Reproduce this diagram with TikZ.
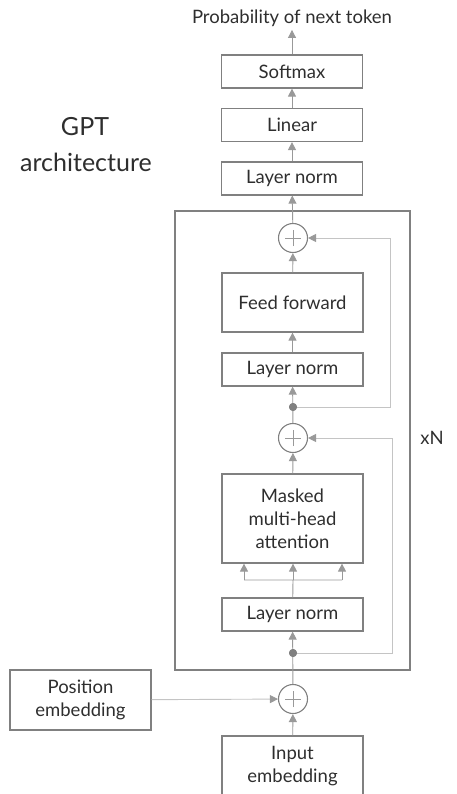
\documentclass[tikz,border=0pt]{standalone}
\usepackage{fontspec}
\setmainfont{Lato}
\usetikzlibrary{arrows.meta}
\definecolor{boxgray}{HTML}{808080}
\definecolor{linegray}{HTML}{999999}
\definecolor{skipgray}{HTML}{C4C4C4}
\definecolor{txtgray}{HTML}{2E2E2E}

\begin{document}
\begin{tikzpicture}[
        x=1pt, y=-1pt,
        font=\fontsize{18.5}{23}\selectfont, text=txtgray,
        layer/.style={draw=boxgray, line width=1.2pt, minimum width=141pt,
          minimum height=33pt, inner sep=0pt, align=center},
        sumnode/.style={circle, draw=boxgray, line width=1.1pt, minimum size=29pt,
          inner sep=0pt, path picture={
            \draw[linegray, line width=0.8pt]
              ([xshift=-8pt]path picture bounding box.center) -- ([xshift=8pt]path picture bounding box.center)
              ([yshift=-8pt]path picture bounding box.center) -- ([yshift=8pt]path picture bounding box.center);}},
        junction/.style={circle, fill=boxgray, minimum size=8pt, inner sep=0pt},
        flow/.style={draw=linegray, line width=0.9pt, -{Triangle[length=8pt,width=8pt]}},
        resid/.style={draw=skipgray, line width=0.9pt, -{Triangle[length=8pt,width=8pt,color=linegray]}}
      ]
      \useasboundingbox (0,0) rectangle (457,794);

      % title
      \node (gpt) at (85,127) {\fontsize{25}{30}\selectfont GPT};
      \node (arch) at (86,162) {\fontsize{25}{30}\selectfont architecture};

      % output head
      \node (prob) at (292,18) {Probability of next token};
      \node (softmax) [layer] at (292,71.5) {Softmax};
      \node (linear) [layer] at (292,125) {Linear};
      \node (lnout) [layer] at (292,178.5) {Layer norm};

      % transformer block
      \node (blk) [draw=boxgray, line width=1.4pt, minimum width=235pt,
        minimum height=459pt, inner sep=0pt] at (292.5,440.5) {};
      \node (xn) at (432,438) {xN};
      \node (add2) [sumnode] at (293,238) {};
      \node (ff) [layer, minimum height=59pt] at (292.5,302.5) {Feed forward};
      \node (ln2) [layer] at (292.5,369.5) {Layer norm};
      \node (dot2) [junction] at (293,407) {};
      \node (add1) [sumnode] at (293,438) {};
      \node (mha) [layer, minimum height=89pt] at (292.5,518.5)
        {Masked\\multi-head\\attention};
      \coordinate (split) at (293,580);
      \coordinate (splitl) at (244,580);
      \coordinate (splitr) at (342,580);
      \node (ln1) [layer] at (292.5,614.5) {Layer norm};
      \node (dot1) [junction] at (293,653) {};

      % embeddings
      \node (add0) [sumnode] at (293,699) {};
      \node (pos) [layer, minimum height=60pt] at (80.5,700) {Position\\embedding};
      \node (inp) [layer, minimum height=61pt] at (292.5,766.5) {Input\\embedding};

      % main path
      \draw[flow] (inp) -- (add0);
      \draw[flow] (add0) -- (ln1);
      \draw[draw=linegray, line width=0.9pt] (ln1) -- (split) (splitl) -- (splitr);
      \draw[flow] (split) -- (split |- mha.south);
      \draw[flow] (splitl) -- (splitl |- mha.south);
      \draw[flow] (splitr) -- (splitr |- mha.south);
      \draw[flow] (mha) -- (add1);
      \draw[flow] (add1) -- (ln2);
      \draw[flow] (ln2) -- (ff);
      \draw[flow] (ff) -- (add2);
      \draw[flow] (add2) -- (lnout);
      \draw[flow] (lnout) -- (linear);
      \draw[flow] (linear) -- (softmax);
      \draw[flow] (softmax) -- (prob);

      % residual connections
      \draw[resid] (pos) -- (add0);
      \draw[resid] (dot1) -- (392,653) -- (392,438) -- (add1);
      \draw[resid] (dot2) -- (390,407) -- (390,238) -- (add2);
      \node[junction] at (dot1) {};
      \node[junction] at (dot2) {};
    \end{tikzpicture}
\end{document}
